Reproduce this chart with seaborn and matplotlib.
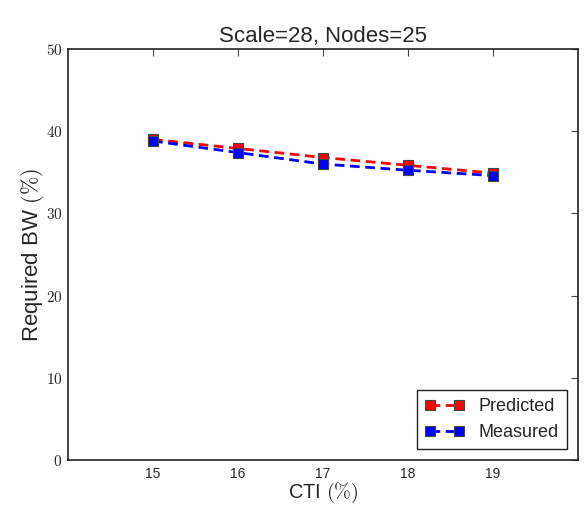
import matplotlib
matplotlib.use("Agg")
import matplotlib.pyplot as plt
import seaborn as sns
import pandas as pd
from matplotlib.ticker import FuncFormatter
from matplotlib.lines import Line2D

cti = [15, 16, 17, 18, 19]
predicted = [39.0, 37.9, 36.8, 35.85, 34.9]
measured = [38.8, 37.4, 36.0, 35.25, 34.6]
series_names = ["Predicted", "Measured"]
colors = ["red", "blue"]
yticks = [0, 10, 20, 30, 40, 50]

sns.set_style("white")
plt.rcParams["font.family"] = ["Liberation Sans", "DejaVu Sans"]
plt.rcParams["mathtext.fontset"] = "cm"
plt.rcParams["xtick.direction"] = "in"
plt.rcParams["ytick.direction"] = "in"

df = pd.concat([
    pd.DataFrame({"CTI": cti, "BW": predicted, "Series": series_names[0]}),
    pd.DataFrame({"CTI": cti, "BW": measured, "Series": series_names[1]}),
])

fig = plt.figure(figsize=(5.85, 5.05), dpi=100)
ax = fig.add_axes([68/585, 45/505, 510/585, 411/505])

sns.lineplot(data=df, x="CTI", y="BW", hue="Series", palette=colors,
             marker="s", markersize=7.5, markeredgecolor="#444444", markeredgewidth=0.8,
             linestyle="--", linewidth=2, ax=ax, legend=False)
for line in ax.lines:
    line.set_dashes([3.5, 2])

ax.set_xlim(14, 20)
ax.set_ylim(0, 50)
ax.set_xticks(cti)
ax.set_yticks(yticks)
ax.yaxis.set_major_formatter(FuncFormatter(lambda v, p: r"$%d$" % v))
ax.tick_params(axis="both", which="major", top=True, right=True, length=5,
               width=0.8, color="#444444")
ax.tick_params(axis="x", labelsize=10, pad=5)
ax.tick_params(axis="y", labelsize=11, pad=4)
for s in ax.spines.values():
    s.set_color("#222222")
    s.set_linewidth(1.2)

ax.set_xlabel(r"CTI $(\%)$", fontsize=14.5, va="center")
ax.xaxis.set_label_coords(0.5, -(493 - 460) / 411)
ax.set_ylabel(r"Required BW $(\%)$", fontsize=16, labelpad=0)
ax.set_title("Scale=28, Nodes=25", fontsize=16, pad=5)

handles = [Line2D([0], [0], color=c, linestyle="--", dashes=[3.5, 2], linewidth=2, marker="s",
                  markersize=7.5, markeredgecolor="#444444", markeredgewidth=0.8)
           for c in colors]
leg = ax.legend(handles, series_names, loc="lower right", numpoints=2, fontsize=13,
                frameon=True, fancybox=False, edgecolor="#222222", framealpha=1,
                handlelength=2.2, borderpad=0.45, labelspacing=0.5, borderaxespad=0.6,
                handletextpad=0.8)
leg.get_frame().set_linewidth(1.0)

fig.savefig("out.png", dpi=100)
